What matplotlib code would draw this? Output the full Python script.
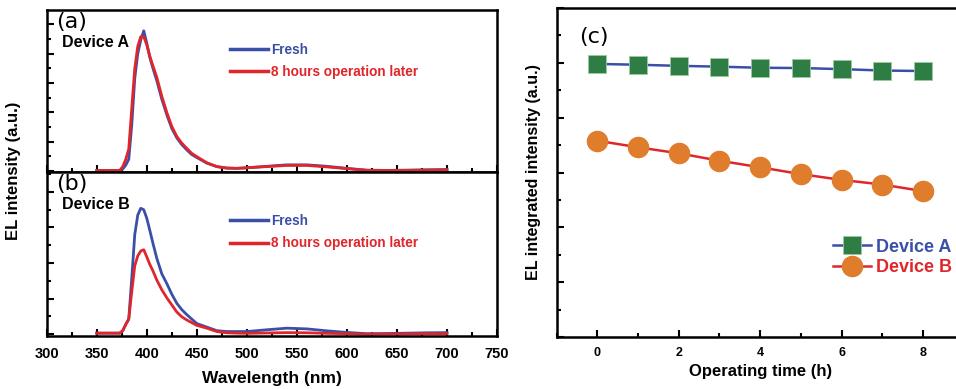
import numpy as np
import matplotlib
matplotlib.use("Agg")
import matplotlib.pyplot as plt
from matplotlib.ticker import MultipleLocator

plt.rcParams['font.family'] = ['Liberation Sans', 'DejaVu Sans']
plt.rcParams['font.weight'] = 'bold'
plt.rcParams['axes.labelweight'] = 'bold'

BLUE = '#3A4FA8'
RED = '#E0262B'
GREEN = '#2E7D45'
ORANGE = '#E07D2D'

# EL spectra, wavelength in nm, intensity in arbitrary units
wl = [350, 355, 360, 365, 370, 373, 376, 379, 382, 385, 388, 391, 394, 397, 400,
      403, 406, 410, 415, 420, 425, 430, 435, 440, 445, 450, 460, 470, 480, 490,
      500, 520, 540, 560, 580, 600, 620, 640, 660, 680, 700]

a_fresh = [0.02, 0.02, 0.02, 0.02, 0.02, 0.02, 0.07, 0.20, 0.40, 1.57, 3.16, 4.00, 4.47, 4.78, 4.36,
           3.88, 3.52, 3.08, 2.45, 1.92, 1.45, 1.13, 0.90, 0.72, 0.56, 0.46, 0.27, 0.15, 0.10, 0.09,
           0.11, 0.16, 0.21, 0.21, 0.16, 0.09, 0.03, 0.02, 0.03, 0.04, 0.05]
a_aged = [0.02, 0.02, 0.02, 0.02, 0.02, 0.02, 0.15, 0.40, 0.75, 2.14, 3.50, 4.25, 4.58, 4.58, 4.30,
          3.92, 3.60, 3.20, 2.55, 2.00, 1.52, 1.18, 0.95, 0.77, 0.60, 0.49, 0.28, 0.15, 0.10, 0.09,
          0.11, 0.15, 0.19, 0.19, 0.14, 0.08, 0.02, 0.02, 0.02, 0.03, 0.04]

b_fresh = [0.06, 0.06, 0.06, 0.06, 0.06, 0.06, 0.20, 0.55, 0.85, 3.15, 5.60, 6.70, 7.08, 7.00, 6.52,
           5.85, 5.15, 4.27, 3.40, 2.85, 2.25, 1.74, 1.38, 1.10, 0.85, 0.60, 0.40, 0.20, 0.15, 0.15,
           0.15, 0.25, 0.34, 0.30, 0.19, 0.10, 0.03, 0.04, 0.06, 0.08, 0.09]
b_aged = [0.06, 0.06, 0.06, 0.06, 0.06, 0.06, 0.20, 0.55, 0.85, 2.39, 3.85, 4.40, 4.68, 4.75, 4.35,
          3.93, 3.58, 3.05, 2.50, 2.05, 1.65, 1.25, 0.98, 0.80, 0.65, 0.50, 0.34, 0.15, 0.08, 0.06,
          0.05, 0.07, 0.09, 0.08, 0.05, 0.03, 0.00, 0.01, 0.02, 0.03, 0.03]

# integrated intensity vs operating time
hours = [0, 1, 2, 3, 4, 5, 6, 7, 8]
dev_a = [9.96, 9.93, 9.89, 9.86, 9.82, 9.81, 9.77, 9.72, 9.70]
dev_b = [7.16, 6.92, 6.70, 6.43, 6.19, 5.94, 5.73, 5.56, 5.32]

W, H = 956, 389
fig = plt.figure(figsize=(W / 100, H / 100), dpi=100)

ax_a = fig.add_axes([46.7 / W, 1 - 172 / H, 450.3 / W, 162 / H])
ax_b = fig.add_axes([46.7 / W, 1 - 336 / H, 450.3 / W, 164 / H])
ax_c = fig.add_axes([556.5 / W, 1 - 337 / H, 407.4 / W, 329 / H])


def style(ax):
    for s in ax.spines.values():
        s.set_linewidth(1.8)
    ax.tick_params(which='both', direction='in', width=1.5, top=False, right=False)
    ax.tick_params(which='major', length=5)
    ax.tick_params(which='minor', length=3)


for ax, fresh, aged, name, tag, ylim, major, leg_y in [
        (ax_a, a_fresh, a_aged, 'Device A', '(a)', (-0.034, 5.49), 1.0, 0.873),
        (ax_b, b_fresh, b_aged, 'Device B', '(b)', (-0.1, 9.12), 2.0, 0.818)]:
    ax.plot(wl, fresh, color=BLUE, lw=2, label='Fresh')
    ax.plot(wl, aged, color=RED, lw=2, label='8 hours operation later')
    ax.set_xlim(300, 750)
    ax.set_ylim(*ylim)
    ax.xaxis.set_major_locator(MultipleLocator(50))
    ax.xaxis.set_minor_locator(MultipleLocator(25))
    ax.yaxis.set_major_locator(MultipleLocator(major))
    ax.yaxis.set_minor_locator(MultipleLocator(major / 2))
    ax.set_yticklabels([])
    style(ax)
    ax.text(0.02, 0.985, tag, transform=ax.transAxes, fontsize=16, fontweight='normal',
            family='DejaVu Sans', va='top', ha='left')
    ax.text(0.034, 0.80, name, transform=ax.transAxes, fontsize=11.5, va='center', ha='left')
    leg = ax.legend(loc='upper left', bbox_to_anchor=(0.379, leg_y), frameon=False,
                    handlelength=2.8, handletextpad=0.25, labelspacing=0.6,
                    prop={'size': 9.8, 'weight': 'bold'})
    for txt, line in zip(leg.get_texts(), leg.get_lines()):
        txt.set_color(line.get_color())
        line.set_linewidth(2.5)

ax_a.set_xticklabels([])
ax_b.tick_params(axis='x', labelsize=10.5, pad=8)
ax_b.set_xlabel('Wavelength (nm)', fontsize=12.5, labelpad=7)
fig.text(14 / W, 1 - 171 / H, 'EL intensity (a.u.)', rotation=90, fontsize=12,
         fontweight='bold', ha='center', va='center')

# panel (c)
ax_c.plot(hours, dev_a, color=BLUE, lw=1.8, marker='s', ms=13,
          mfc=GREEN, mec='#9CCB9F', mew=0.6, label='Device A')
ax_c.plot(hours, dev_b, color=RED, lw=1.8, marker='o', ms=14.5,
          mfc=ORANGE, mec=ORANGE, label='Device B')
ax_c.set_xlim(-1, 9)
ax_c.set_ylim(0, 12)
ax_c.xaxis.set_major_locator(MultipleLocator(2))
ax_c.xaxis.set_minor_locator(MultipleLocator(1))
ax_c.yaxis.set_major_locator(MultipleLocator(2))
ax_c.yaxis.set_minor_locator(MultipleLocator(1))
ax_c.set_yticklabels([])
style(ax_c)
ax_c.tick_params(axis='x', labelsize=9, pad=7)
ax_c.set_xlabel('Operating time (h)', fontsize=12, labelpad=4)
ax_c.set_ylabel('EL integrated intensity (a.u.)', fontsize=11.5, labelpad=8)
ax_c.text(0.055, 0.912, '(c)', transform=ax_c.transAxes, fontsize=16,
          fontweight='normal', family='DejaVu Sans', va='center', ha='left')
leg = ax_c.legend(loc='upper left', bbox_to_anchor=(0.64, 0.348), frameon=False,
                  handlelength=2.1, handletextpad=0.25, labelspacing=0.2,
                  prop={'size': 13, 'weight': 'bold'})
for txt, line in zip(leg.get_texts(), leg.get_lines()):
    txt.set_color(line.get_color())

fig.savefig('out.png', dpi=100)
